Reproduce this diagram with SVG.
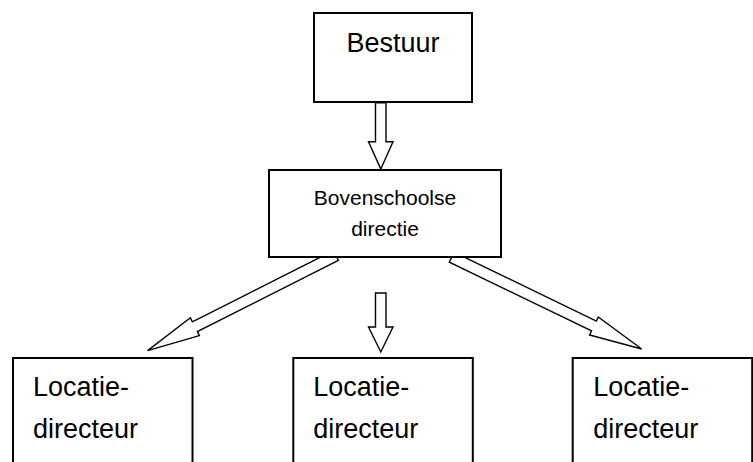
<svg xmlns="http://www.w3.org/2000/svg" width="753" height="462" viewBox="0 0 753 462">
<style>
.box{fill:#fff;stroke:#000;stroke-width:2}
.arr{fill:#fff;stroke:#000;stroke-width:1.4;stroke-linejoin:miter}
text{font-family:"Liberation Sans",Arial,sans-serif;fill:#000}
.big{font-size:27px}
.mid{font-size:21px}
</style>
<defs>
<polygon id="diag" points="0,-5.5 158,-5.5 158,-10 211,0 158,10 158,5.5 0,5.5"/>
</defs>
<rect width="753" height="462" fill="#fff"/>
<g id="connectors">
<polygon class="arr" points="375.5,102.7 386,102.7 386,141.7 393,141.7 380.8,169 368.5,141.7 375.5,141.7"/>
<polygon class="arr" points="375.5,293 386,293 386,327 393,327 380.8,352 368.5,327 375.5,327"/>
<use href="#diag" class="arr" transform="translate(335.9,255.5) rotate(153.2)"/>
<use href="#diag" class="arr" transform="translate(451.7,257.2) rotate(25.8)"/>
</g>
<g id="bestuur">
<rect class="box" x="314" y="13" width="158" height="89"/>
<text class="big" x="393" y="52" text-anchor="middle">Bestuur</text>
</g>
<g id="bovenschoolse">
<rect class="box" x="269" y="170" width="232" height="87"/>
<text class="mid" x="385" y="205" text-anchor="middle">Bovenschoolse</text>
<text class="mid" x="385" y="236" text-anchor="middle">directie</text>
</g>
<g id="locatie1">
<rect class="box" x="13" y="358" width="179.5" height="120"/>
<text class="big" x="33" y="396">Locatie-</text>
<text class="big" x="33" y="438">directeur</text>
</g>
<g id="locatie2">
<rect class="box" x="293.3" y="358" width="179.5" height="120"/>
<text class="big" x="313.3" y="396">Locatie-</text>
<text class="big" x="313.3" y="438">directeur</text>
</g>
<g id="locatie3">
<rect class="box" x="572.7" y="358" width="179.5" height="120"/>
<text class="big" x="593.3" y="396">Locatie-</text>
<text class="big" x="593.3" y="438">directeur</text>
</g>
</svg>
